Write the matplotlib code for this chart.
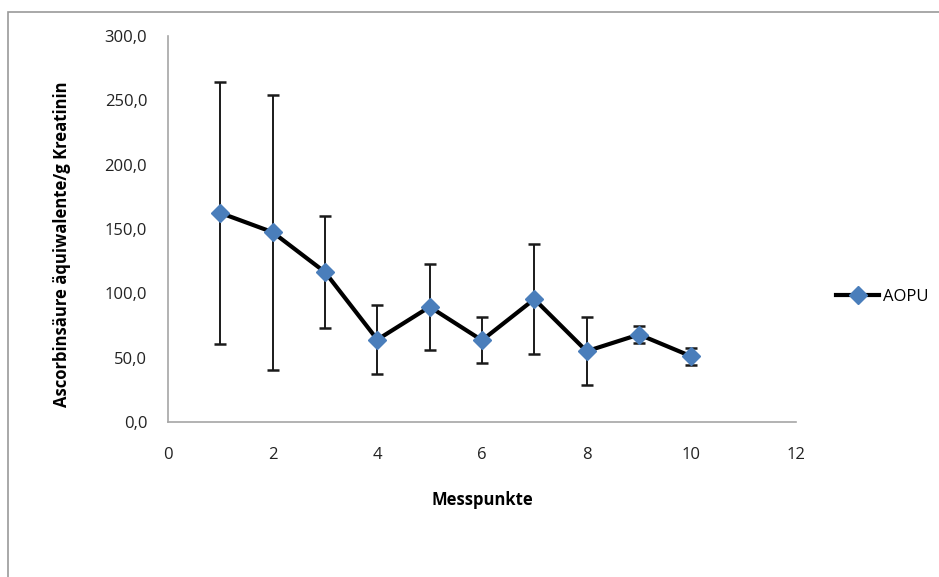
import matplotlib.pyplot as plt
from matplotlib.patches import Rectangle
from matplotlib.ticker import FuncFormatter

# Messwerte
messpunkte = [1, 2, 3, 4, 5, 6, 7, 8, 9, 10]
aopu = [162.5, 147.5, 116.5, 64.0, 89.5, 63.5, 95.5, 55.0, 68.0, 51.0]
aopu_sd = [101.5, 107.0, 43.5, 27.0, 33.5, 18.0, 43.0, 26.5, 6.5, 6.5]

y_ticks = [0, 50, 100, 150, 200, 250, 300]
x_ticks = [0, 2, 4, 6, 8, 10, 12]

plt.rcParams['font.family'] = ['Open Sans', 'DejaVu Sans']

fig = plt.figure(figsize=(9.39, 5.77), dpi=100)
# Rahmen wie im Excel-Diagramm
fig.patches.append(Rectangle((8 / 939, -0.1), 1.2, 1 - 12 / 577 + 0.1,
                             transform=fig.transFigure, fill=False,
                             edgecolor='#9a9a9a', linewidth=1.2))

ax = fig.add_axes([168 / 939, 1 - 422 / 577, (796 - 168) / 939, (422 - 36) / 577])

ax.errorbar(messpunkte, aopu, yerr=aopu_sd, fmt='none', ecolor='#1a1a1a',
            elinewidth=1.4, capsize=4.5, capthick=1.8, zorder=2)
ax.plot(messpunkte, aopu, color='black', linewidth=3, marker='D',
        markersize=9.5, markerfacecolor='#4a7ebb', markeredgecolor='#4a7ebb',
        label='AOPU', zorder=3)

ax.set_xlim(0, 12)
ax.set_ylim(0, 300)
ax.set_xticks(x_ticks)
ax.set_yticks(y_ticks)
ax.yaxis.set_major_formatter(FuncFormatter(lambda v, p: f'{v:.1f}'.replace('.', ',')))
ax.tick_params(length=0, labelsize=12, colors='#222222')
ax.tick_params(axis='x', pad=18)
ax.tick_params(axis='y', pad=15)

for side in ['top', 'right']:
    ax.spines[side].set_visible(False)
for side in ['left', 'bottom']:
    ax.spines[side].set_color('#a6a6a6')
    ax.spines[side].set_linewidth(1.2)

ax.set_xlabel('Messpunkte', fontsize=12, fontweight='bold', labelpad=20)
ax.set_ylabel('Ascorbinsäure äquiwalente/g Kreatinin', fontsize=12,
              fontweight='bold', labelpad=24)
ax.yaxis.label.set_y(0.46)

ax.legend(loc='center left', bbox_to_anchor=(1.04, 0.324), frameon=False,
          fontsize=12, handlelength=2.6, handletextpad=0.2)

plt.savefig('out.png', dpi=100)
